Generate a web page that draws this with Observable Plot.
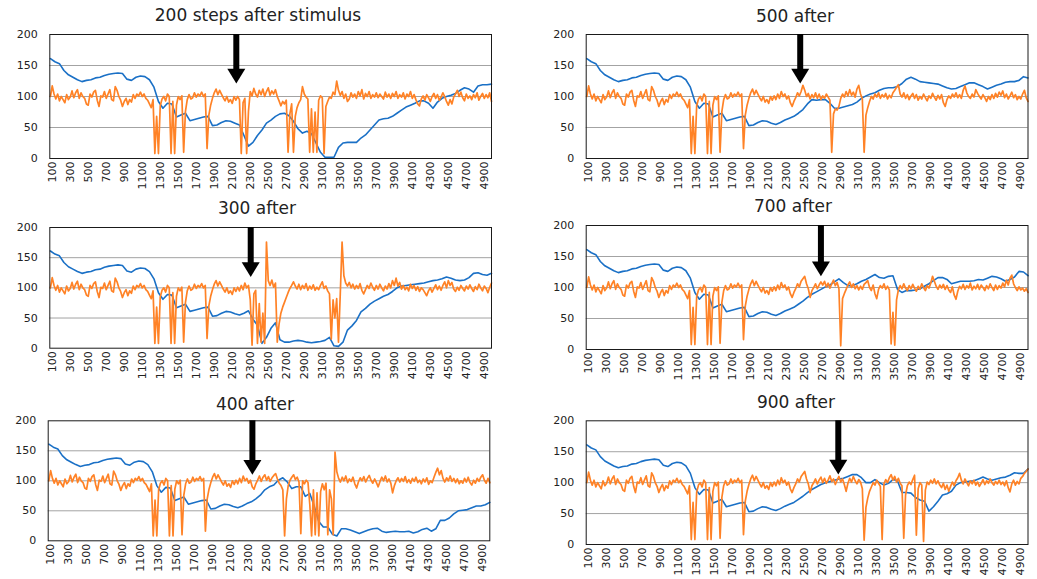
<!DOCTYPE html>
<html><head><meta charset="utf-8">
<script src="https://cdn.jsdelivr.net/npm/d3@7"></script>
<script src="https://cdn.jsdelivr.net/npm/@observablehq/plot@0.6"></script>
<style>
body{margin:0;background:#fff;}
#chart{position:relative;width:1037px;height:579px;overflow:hidden;font-family:"DejaVu Sans",sans-serif;}
.panel{position:absolute;}
.title{position:absolute;font-size:17px;color:#222;white-space:nowrap;transform:translateX(-50%);line-height:1;}
</style></head><body><div id="chart"></div>
<script>
// ---- tick labels ----
const xTickLabels = [100,300,500,700,900,1100,1300,1500,1700,1900,2100,2300,2500,2700,2900,3100,3300,3500,3700,3900,4100,4300,4500,4700,4900];
const yTickLabels = [0,50,100,150,200];
const yGridValues = [50,100,150];

// ---- panel titles and stimulus arrows (step position, arrow tip value) ----
const titles = ["200 steps after stimulus","500 after","300 after","700 after","400 after","900 after"];
const arrowSteps = [2145,2450,2305,2680,2342,2873];
const arrowTips = [121,121,118,118,110,113];

// ---- blue series (sampled every 50 steps) ----
const blueBase = [161,156,153,142,135,131,127,124,126,127,130,131,134,136,137,138,137,128,126,131,
  133,132,127,115,92,81,89,88,67,70,73,61,63,65,67,68,53,54,58,61,60,57]; // 80..2130
const blueControl = [55,58,62,65,68,73,78,84,89,93,97,100,102,104,106]; // 2180..2880
const blue200 = [54,37,20,26,37,46,57,62,68,72,73,69,60,48,41,44,40,25,10,2,
  2,2,18,25,26,26,26,33,38,46,54,62,64,65,68,73,78,83,86,89,
  93,93,89,81,91,97,100,102,105,110,114,112,107,117,119,119,120]; // from 2180
const blue300 = [48,38,8,18,33,42,14,10,10,12,13,12,10,9,10,11,13,18,4,3,
  10,30,37,46,60,66,73,78,82,86,89,94,100,103,104,105,106,107,108,110,
  112,113,115,118,116,113,112,113,117,124,125,122,121,124]; // from 2330
const blue400 = [70,76,85,90,93,101,105,98,87,90,90,74,79,57,32,23,23,11,8,20,
  20,18,15,12,15,18,20,21,16,14,15,16,15,15,16,13,15,19,21,16,
  20,34,34,38,45,50,51,52,55,58,58,60,64]; // from 2380
const blue500 = [79,88,95,94,95,95,89,81,81,83,85,87,91,97,101,104,106,110,113,114,
  114,116,121,128,131,128,124,123,122,121,120,117,114,112,113,116,119,122,122,119,
  116,112,115,118,120,123,124,124,126,132,130]; // from 2480
const blue700 = [101,104,109,114,108,103,103,106,110,113,117,121,116,115,118,119,97,92,95,95,
  96,98,102,106,111,116,116,113,106,108,110,110,110,111,113,112,115,118,117,114,
  110,113,117,126,125,119]; // from 2730
const blue900 = [107,110,113,113,108,100,100,105,100,96,99,105,103,84,84,83,76,72,70,54,
  61,70,80,82,86,96,100,101,102,103,106,109,106,104,106,108,109,112,116,115,
  115,122]; // from 2930

// ---- orange series (sampled every 20 steps) ----
const orangeBase = [100,117,104,96,104,93,100,95,90,103, 95,99,109,98,106,111,97,106,100,97,
  88,86,104,99,107,110,94,84,101,99, 108,97,104,111,95,93,116,110,100,94,
  84,92,97,87,95,91,103,97,104,101, 107,100,104,97,94,88,82,95,8,68,
  8,85,96,100,93,104,100,8,92,8, 86,100,95,101,10,76,95,103,96,98,
  106,99,104,101,107,100,104,16,70,86, 97,106,112,103,110,104,98,93,100,91,
  95,89,100]; // 80..2120
const orangeControl = [94,101,95,104,97,108,100,104,96,101, 90,84,92,98,106,101,110,114,118,106,
  98,84,95,100,106,98,104,109,100,107, 99,104,111,102,106,97,104]; // 2140..2860
const orange200 = [94,100,95,8,90,97,8,76,108,101, 113,104,99,110,103,112,100,108,114,102,
  109,104,111,100,93,85,92,88,94,10, 72,88,10,68,82,90,95,116,104,99,
  96,10,80,10,75,10,94,101,98,8, 84,92,99,97,107,103,125,110,102,108,
  97,104,92,96,106,99,104,97,108,101, 111,96,105,100,108,97,103,99,106,98,
  104,100,96,107,99,104,97,105,100,108, 97,103,99,106,96,104,100,108,97,103,
  95,88,85,96,101,94,103,98,92,100, 105,97,103,94,99,106,100,92,86,95,
  88,99,104,110,100,107,98,93,104,97, 101,95,103,98,106,94,100,105,97,103,
  98,106,92]; // from 2140
const orange300 = [80,5,90,96,8,74,10,58,8,176, 112,104,113,101,108,10,40,58,68,76,
  84,92,99,104,110,103,98,106,97,104, 99,107,96,103,98,105,96,101,97,104,
  110,99,103,95,90,15,80,50,82,10, 90,176,120,108,103,109,100,106,98,104,
  99,107,96,90,97,104,99,108,101,96, 104,98,106,100,95,103,98,107,100,112,
  104,116,103,109,98,104,97,101,95,106, 99,104,96,102,94,100,97,92,87,95,
  100,93,99,105,97,103,96,104,110,100, 112,104,109,98,94,101,96,104,99,95,
  103,98,105,99,94,102,97,106,100,95, 103,99,92,101,108]; // from 2300
const orange400 = [86,95,101,108,99,106,110,101,107,99, 105,109,112,103,96,92,85,8,70,92,
  101,106,110,102,106,98,12,100,95,101, 97,60,8,85,10,80,8,82,95,85,
  96,10,85,70,10,148,115,104,98,106, 100,108,97,103,99,106,95,88,98,105,
  100,107,98,104,109,101,96,103,97,90, 99,106,100,108,98,103,96,80,92,100,
  105,98,104,99,107,97,102,96,104,99, 106,97,101,95,103,98,105,94,100,97,
  106,114,121,110,117,104,98,105,100,108, 99,104,97,103,95,100,96,104,98,106,
  97,93,101,96,104,99,106,110,101,96, 104,97]; // from 2360
const orange500 = [108,118,110,100,105,96,103,98,106,97, 104,95,101,97,104,99,94,10,72,80,
  78,84,97,104,99,108,101,111,102,107, 99,112,118,104,96,10,70,82,92,100,
  96,104,99,106,97,103,99,105,96,102, 98,106,110,115,119,104,99,106,97,103,
  95,101,105,97,103,94,100,96,104,98, 93,101,97,105,99,94,102,96,103,90,
  84,95,101,97,104,99,106,98,103,97, 110,117,106,100,97,104,99,111,105,100,
  96,103,98,92,100,95,103,97,105,99, 107,102,109,98,104,96,101,107,98,103,
  95,100,96,104,110,98,92]; // from 2460
const orange700 = [104,110,101,107,99,106,112,103,108,98, 6,82,90,97,104,109,100,106,98,103,
  96,102,97,105,108,111,100,95,104,90, 82,97,103,99,106,97,102,96,9,60,
  7,80,96,103,98,106,99,95,103,98, 105,99,94,102,97,106,100,95,103,99,
  107,118,110,102,97,104,99,105,97,103, 96,92,101,88,81,94,102,98,105,97,
  103,99,107,96,102,98,105,97,104,100, 95,103,98,106,100,95,104,97,103,99,
  107,101,112,104,115,120,106,100,95,101, 96,99,94,98,92]; // from 2700
const orange900 = [110,101,106,97,86,99,107,101,110,103, 98,105,101,90,7,60,75,86,93,100,
  96,104,99,94,8,98,105,100,108,113, 104,110,101,107,99,95,10,80,95,101,
  97,105,112,15,90,100,96,5,88,101, 97,104,99,106,98,103,96,92,99,89,
  96,86,94,101,95,103,108,115,104,98, 106,100,95,103,98,104,96,101,94,99,
  105,97,103,99,106,100,96,102,98,104, 97,101,95,103,92,85,98,104,96,102,
  98,107,110,115,118,122]; // from 2880

// ---- build series ----
const O_STEP = 20, B_STEP = 50;
const seg = (start, step, vals) => vals.map((y, i) => ({x: start + i * step, y}));
const join = (base, ctl, own) => [...base, ...ctl.filter(d => d.x < own[0].x), ...own];
const bBase = seg(80, B_STEP, blueBase), bCtl = seg(2180, B_STEP, blueControl);
const oBase = seg(80, O_STEP, orangeBase), oCtl = seg(2140, O_STEP, orangeControl);
const blueSeries = [
  join(bBase, bCtl, seg(2180, B_STEP, blue200)),
  join(bBase, bCtl, seg(2480, B_STEP, blue500)),
  join(bBase, bCtl, seg(2330, B_STEP, blue300)),
  join(bBase, bCtl, seg(2730, B_STEP, blue700)),
  join(bBase, bCtl, seg(2380, B_STEP, blue400)),
  join(bBase, bCtl, seg(2930, B_STEP, blue900))
];
const orangeSeries = [
  join(oBase, oCtl, seg(2140, O_STEP, orange200)),
  join(oBase, oCtl, seg(2460, O_STEP, orange500)),
  join(oBase, oCtl, seg(2300, O_STEP, orange300)),
  join(oBase, oCtl, seg(2700, O_STEP, orange700)),
  join(oBase, oCtl, seg(2360, O_STEP, orange400)),
  join(oBase, oCtl, seg(2880, O_STEP, orange900))
];

// ---- layout (pixels) ----
const layout = [
  {left:0,   top:0,   w:518, h:195, ml:49.3, mr:27,  mt:34, mb:37,   tx:258, ty:7},
  {left:520, top:0,   w:517, h:195, ml:65.7, mr:9.5, mt:34, mb:37,   tx:795, ty:8},
  {left:0,   top:195, w:518, h:195, ml:49.3, mr:27,  mt:32, mb:42.3, tx:257, ty:200},
  {left:520, top:195, w:517, h:195, ml:65.7, mr:9.5, mt:30, mb:41,   tx:793, ty:198},
  {left:0,   top:390, w:518, h:189, ml:47.7, mr:28.7,mt:30.3, mb:38.7, tx:255, ty:396},
  {left:520, top:390, w:517, h:189, ml:65.7, mr:9.5, mt:30.3, mb:35, tx:796, ty:394}
];
const BLUE = "#1a70c6", ORANGE = "#ff8226";
const headDown = {draw(ctx, size) { const r = Math.sqrt(size / Math.PI); const w = r, h = r * 1.65;
  ctx.moveTo(-w, -h); ctx.lineTo(w, -h); ctx.lineTo(0, 0); ctx.closePath(); }};

const root = document.getElementById("chart");
layout.forEach((L, i) => {
  const arrow = [{x: arrowSteps[i], tip: arrowTips[i]}];
  const svg = Plot.plot({
    width: L.w, height: L.h,
    marginLeft: L.ml, marginRight: L.mr, marginTop: L.mt, marginBottom: L.mb,
    style: {fontFamily: "DejaVu Sans, sans-serif", fontSize: "11px", color: "#222", background: "transparent", overflow: "visible"},
    x: {domain: [73, 4980], ticks: xTickLabels, tickFormat: d => String(d), tickRotate: -90, tickSize: 0, tickPadding: 3, label: null},
    y: {domain: [0, 200], ticks: yTickLabels, tickFormat: d => String(d), tickSize: 0, tickPadding: 12, label: null},
    marks: [
      Plot.ruleY(yGridValues, {stroke: "#a3a3a3", strokeWidth: 1}),
      Plot.line(blueSeries[i], {x: "x", y: "y", stroke: BLUE, strokeWidth: 1.6}),
      Plot.line(orangeSeries[i], {x: "x", y: "y", stroke: ORANGE, strokeWidth: 1.7}),
      Plot.frame({stroke: "#1a1a1a"}),
      Plot.ruleX(arrow, {x: "x", y1: 200, y2: "tip", stroke: "#000", strokeWidth: 6, insetBottom: 13}),
      Plot.dot(arrow, {x: "x", y: "tip", symbol: headDown, r: 9, fill: "#000", stroke: "none"})
    ]
  });
  const div = document.createElement("div");
  div.className = "panel";
  div.style.left = L.left + "px"; div.style.top = L.top + "px";
  div.appendChild(svg);
  root.appendChild(div);
  const t = document.createElement("div");
  t.className = "title"; t.textContent = titles[i];
  t.style.left = L.tx + "px"; t.style.top = L.ty + "px";
  root.appendChild(t);
});
</script></body></html>
